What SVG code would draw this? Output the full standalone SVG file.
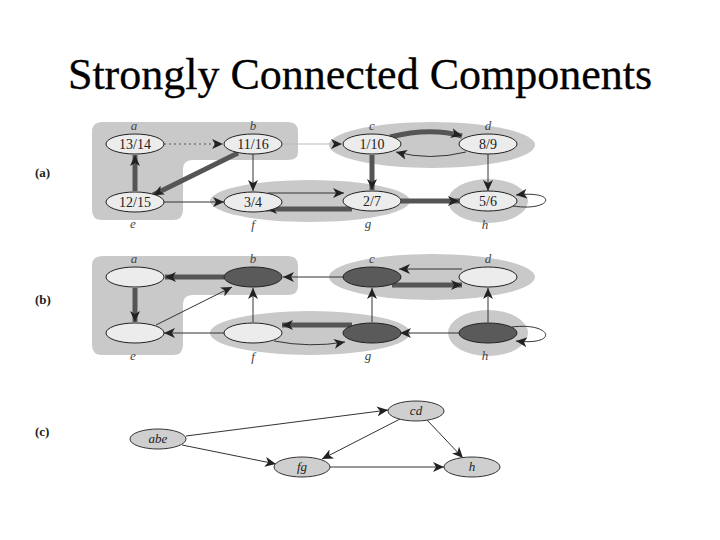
<svg xmlns="http://www.w3.org/2000/svg" width="720" height="540" viewBox="0 0 720 540">
<style>
.title{font-family:"Liberation Serif","Times New Roman",serif;font-size:44px;fill:#000;stroke:#000;stroke-width:0.3}
.part{font-family:"Liberation Serif",serif;font-size:13px;font-weight:bold;fill:#222}
.lbl{font-family:"Liberation Serif",serif;font-size:13px;font-style:italic;fill:#444}
.ntx{font-family:"Liberation Serif",serif;font-size:14px;fill:#222}
.ctx{font-family:"Liberation Serif",serif;font-size:13px;font-style:italic;fill:#222}
.reg{fill:#c9c9c9}
.ln{fill:#ececec;stroke:#222;stroke-width:1}
.dn{fill:#5a5a5a;stroke:#222;stroke-width:1}
.cn{fill:#cfcfcf;stroke:#333;stroke-width:1}
.thin{fill:none;stroke:#333;stroke-width:1;marker-end:url(#ah)}
.thick{fill:none;stroke:#555;stroke-width:5;marker-end:url(#ah)}
.dot{fill:none;stroke:#555;stroke-width:1;stroke-dasharray:2 3;marker-end:url(#ah)}
.faint{fill:none;stroke:#bbb;stroke-width:1;marker-end:url(#ah)}
</style>
<defs>
<marker id="ah" markerUnits="userSpaceOnUse" markerWidth="12" markerHeight="10" refX="11" refY="5" orient="auto">
<path d="M0,0 L11,5 L0,10 L3,5 Z" fill="#222"/>
</marker>
</defs>
<rect width="720" height="540" fill="#fff"/>
<text class="title" x="360" y="89" text-anchor="middle">Strongly Connected Components</text>

<!-- part labels -->
<text class="part" x="35" y="177">(a)</text>
<text class="part" x="35" y="304">(b)</text>
<text class="part" x="35" y="436">(c)</text>

<!-- regions (a) -->
<g id="regions-a">
<path class="reg" d="M102,122 H288 Q298,122 298,132 V152 Q298,160 288,160 H192 Q183,160 183,170 V210 Q183,220 173,220 H102 Q92,220 92,210 V132 Q92,122 102,122 Z"/>
<ellipse class="reg" cx="432" cy="145" rx="103" ry="23"/>
<ellipse class="reg" cx="310" cy="201" rx="100" ry="21"/>
<ellipse class="reg" cx="488" cy="201" rx="40" ry="22"/>
</g>
<!-- regions (b) -->
<g id="regions-b">
<path class="reg" d="M102,256 H288 Q298,256 298,266 V286 Q298,295 288,295 H192 Q183,295 183,305 V345 Q183,355 173,355 H102 Q92,355 92,345 V266 Q92,256 102,256 Z"/>
<ellipse class="reg" cx="432" cy="277" rx="103" ry="23"/>
<ellipse class="reg" cx="310" cy="333" rx="100" ry="22"/>
<ellipse class="reg" cx="488" cy="333" rx="40" ry="23"/>
</g>

<!-- connectors -->
<g id="connectors">
<!-- (a) -->
<path class="dot" d="M164,144 L223,144"/>
<path class="faint" d="M282,144 L342,144"/>
<path class="thick" d="M135,191 L135,155"/>
<path class="thick" d="M238,153 L153,195"/>
<path class="thin" d="M253,154 L253,191"/>
<path class="thin" d="M164,202 L224,202"/>
<path class="thin" d="M268,193 L344,193"/>
<path class="thick" d="M352,209 L266,209"/>
<path class="thick" d="M372,155 L372,190"/>
<path class="thick" d="M390,137 Q430,127 462,136"/>
<path class="thin" d="M466,152 Q430,161 396,152"/>
<path class="thin" d="M488,154 L488,191"/>
<path class="thick" d="M401,201 L459,201"/>
<path class="thin" d="M513,206 C552,212 560,190 516,195"/>
<!-- (b) -->
<path class="thick" d="M224,277 L165,277"/>
<path class="thick" d="M135,288 L135,322"/>
<path class="thin" d="M156,325 L232,287"/>
<path class="thin" d="M253,322 L253,288"/>
<path class="thin" d="M224,333 L164,333"/>
<path class="thin" d="M343,277 L283,277"/>
<path class="thick" d="M352,325 L282,325"/>
<path class="thin" d="M274,341 Q310,348 345,342"/>
<path class="thin" d="M462,269 L399,269"/>
<path class="thick" d="M392,285 L462,285"/>
<path class="thin" d="M372,322 L372,288"/>
<path class="thin" d="M488,322 L488,288"/>
<path class="thin" d="M459,333 L400,333"/>
<path class="thin" d="M512,327 C552,322 560,346 516,341"/>
<!-- (c) -->
<path class="thin" d="M186,436 L388,410"/>
<path class="thin" d="M182,445 L276,464"/>
<path class="thin" d="M400,419 L322,459"/>
<path class="thin" d="M427,420 L463,458"/>
<path class="thin" d="M330,467 L444,467"/>
</g>

<!-- nodes (a) -->
<g id="a-a"><ellipse class="ln" cx="135" cy="144" rx="29" ry="10"/><text class="ntx" x="135" y="149" text-anchor="middle">13/14</text><text class="lbl" x="134" y="130" text-anchor="middle">a</text></g>
<g id="a-b"><ellipse class="ln" cx="253" cy="144" rx="29" ry="10"/><text class="ntx" x="253" y="149" text-anchor="middle">11/16</text><text class="lbl" x="253" y="130" text-anchor="middle">b</text></g>
<g id="a-c"><ellipse class="ln" cx="372" cy="144" rx="29" ry="10"/><text class="ntx" x="372" y="149" text-anchor="middle">1/10</text><text class="lbl" x="372" y="130" text-anchor="middle">c</text></g>
<g id="a-d"><ellipse class="ln" cx="488" cy="144" rx="29" ry="10"/><text class="ntx" x="488" y="149" text-anchor="middle">8/9</text><text class="lbl" x="488" y="130" text-anchor="middle">d</text></g>
<g id="a-e"><ellipse class="ln" cx="135" cy="202" rx="29" ry="10"/><text class="ntx" x="135" y="207" text-anchor="middle">12/15</text><text class="lbl" x="133" y="228" text-anchor="middle">e</text></g>
<g id="a-f"><ellipse class="ln" cx="253" cy="202" rx="29" ry="10"/><text class="ntx" x="253" y="207" text-anchor="middle">3/4</text><text class="lbl" x="253" y="229" text-anchor="middle">f</text></g>
<g id="a-g"><ellipse class="ln" cx="372" cy="201" rx="29" ry="10"/><text class="ntx" x="372" y="206" text-anchor="middle">2/7</text><text class="lbl" x="368" y="228" text-anchor="middle">g</text></g>
<g id="a-h"><ellipse class="ln" cx="488" cy="201" rx="29" ry="10"/><text class="ntx" x="488" y="206" text-anchor="middle">5/6</text><text class="lbl" x="485" y="229" text-anchor="middle">h</text></g>

<!-- nodes (b) -->
<g id="b-a"><ellipse class="ln" cx="135" cy="277" rx="29" ry="10"/><text class="lbl" x="134" y="263" text-anchor="middle">a</text></g>
<g id="b-b"><ellipse class="dn" cx="253" cy="277" rx="29" ry="10"/><text class="lbl" x="253" y="263" text-anchor="middle">b</text></g>
<g id="b-c"><ellipse class="dn" cx="372" cy="277" rx="29" ry="10"/><text class="lbl" x="372" y="263" text-anchor="middle">c</text></g>
<g id="b-d"><ellipse class="ln" cx="488" cy="277" rx="29" ry="10"/><text class="lbl" x="488" y="263" text-anchor="middle">d</text></g>
<g id="b-e"><ellipse class="ln" cx="135" cy="333" rx="29" ry="10"/><text class="lbl" x="133" y="360" text-anchor="middle">e</text></g>
<g id="b-f"><ellipse class="ln" cx="253" cy="333" rx="29" ry="10"/><text class="lbl" x="253" y="361" text-anchor="middle">f</text></g>
<g id="b-g"><ellipse class="dn" cx="372" cy="333" rx="29" ry="10"/><text class="lbl" x="368" y="360" text-anchor="middle">g</text></g>
<g id="b-h"><ellipse class="dn" cx="488" cy="333" rx="29" ry="10"/><text class="lbl" x="485" y="360" text-anchor="middle">h</text></g>

<!-- nodes (c) -->
<g id="c-abe"><ellipse class="cn" cx="158" cy="439" rx="28" ry="10"/><text class="ctx" x="158" y="443" text-anchor="middle">abe</text></g>
<g id="c-cd"><ellipse class="cn" cx="416" cy="411" rx="28" ry="10"/><text class="ctx" x="416" y="415" text-anchor="middle">cd</text></g>
<g id="c-fg"><ellipse class="cn" cx="302" cy="467" rx="28" ry="10"/><text class="ctx" x="302" y="471" text-anchor="middle">fg</text></g>
<g id="c-h"><ellipse class="cn" cx="472" cy="467" rx="28" ry="10"/><text class="ctx" x="472" y="471" text-anchor="middle">h</text></g>
</svg>
